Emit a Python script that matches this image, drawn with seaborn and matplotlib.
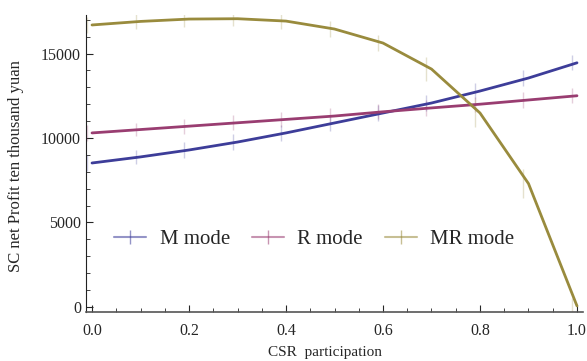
import numpy as np
import pandas as pd
import matplotlib
matplotlib.use("Agg")
import matplotlib.pyplot as plt
import matplotlib.transforms as mtransforms
from matplotlib.lines import Line2D
import seaborn as sns

# CSR participation levels
csr = [0.0, 0.1, 0.2, 0.3, 0.4, 0.5, 0.6, 0.7, 0.8, 0.9, 1.0]

# SC net profit (ten thousand yuan) per mode
m_mode = [8520, 8880, 9290, 9760, 10300, 10890, 11480, 12070, 12780, 13550, 14450]
r_mode = [10300, 10500, 10700, 10900, 11100, 11300, 11550, 11780, 12000, 12250, 12500]
mr_mode = [16690, 16900, 17040, 17060, 16920, 16450, 15620, 14080, 11480, 7300, 60]

# error bar half-lengths
m_err = [450, 400, 450, 450, 450, 450, 450, 450, 450, 450, 450]
r_err = [450, 400, 450, 450, 450, 450, 450, 450, 450, 450, 450]
mr_err = [450, 450, 450, 450, 450, 450, 450, 700, 850, 850, 450]

modes = ["M mode", "R mode", "MR mode"]
colors = ["#3d3d99", "#993d71", "#998b3d"]

df = pd.concat([
    pd.DataFrame({"csr": csr, "profit": m_mode, "err": m_err, "mode": "M mode"}),
    pd.DataFrame({"csr": csr, "profit": r_mode, "err": r_err, "mode": "R mode"}),
    pd.DataFrame({"csr": csr, "profit": mr_mode, "err": mr_err, "mode": "MR mode"}),
])

sns.set_style("ticks")
plt.rcParams["font.family"] = ["Liberation Serif", "DejaVu Serif"]

fig = plt.figure(figsize=(5.87, 3.61), dpi=100)
ax = fig.add_axes([86 / 587, 1 - 312 / 361, 497 / 587, 297 / 361])

# error bars drawn slightly to the left, as in the original
shift = mtransforms.ScaledTranslation(-5 / 100, 0, fig.dpi_scale_trans)
for mode, c in zip(modes, colors):
    d = df[df["mode"] == mode]
    ax.errorbar(d["csr"], d["profit"], yerr=d["err"], fmt="none", ecolor=c,
                alpha=0.25, elinewidth=1.0, capsize=0, transform=ax.transData + shift)

sns.lineplot(data=df, x="csr", y="profit", hue="mode", palette=colors,
             hue_order=modes, linewidth=2, ax=ax, legend=False)

ax.set_xlim(-0.0124, 1.0124)
ax.set_ylim(-300, 17280)
ax.set_xticks([0, 0.2, 0.4, 0.6, 0.8, 1.0])
ax.set_xticklabels(["0.0", "0.2", "0.4", "0.6", "0.8", "1.0"])
ax.set_xticks(np.arange(0, 1.001, 0.05), minor=True)
ax.set_yticks([0, 5000, 10000, 15000])
ax.set_yticks(np.arange(0, 17001, 1000), minor=True)
ax.tick_params(axis="both", which="major", direction="in", length=5, labelsize=11.5, width=0.8)
ax.tick_params(axis="both", which="minor", direction="in", length=3, width=0.6)
ax.tick_params(axis="x", pad=8)
ax.spines["top"].set_visible(False)
ax.spines["right"].set_visible(False)
ax.spines["bottom"].set_color("#555555")
ax.spines["left"].set_color("#222222")
ax.spines["bottom"].set_linewidth(1.2)

ax.set_xlabel("CSR  participation", fontsize=11)
ax.set_ylabel("SC net Profit ten thousand yuan", fontsize=12)
ax.xaxis.set_label_coords(0.481, -0.115)
ax.yaxis.set_label_coords(-0.125, 0.49)

handles = [Line2D([], [], color=c, alpha=0.55, linewidth=1.5, marker="|",
                  markersize=10, markeredgewidth=1) for c in colors]
ax.legend(handles, modes, loc="center", bbox_to_anchor=(0.459, 0.245), ncol=3,
          frameon=False, fontsize=15, handlelength=1.55, columnspacing=1.05,
          handletextpad=0.63)

fig.savefig("out.png", dpi=100)
